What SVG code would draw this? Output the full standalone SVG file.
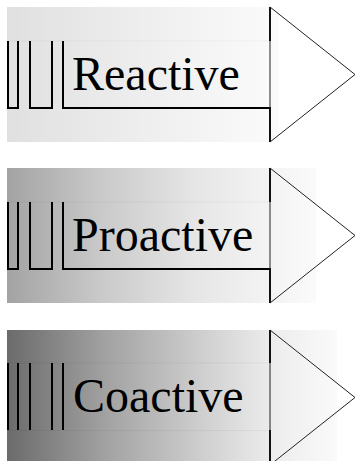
<svg xmlns="http://www.w3.org/2000/svg" width="356" height="461" viewBox="0 0 356 461">
<defs>
<linearGradient id="g1" x1="0" y1="0" x2="1" y2="0">
<stop offset="0" stop-color="#e0e0e0"/>
<stop offset="0.5" stop-color="#eeeeee"/>
<stop offset="1" stop-color="#fbfbfb"/>
</linearGradient>
<linearGradient id="g2" x1="0" y1="0" x2="1" y2="0">
<stop offset="0" stop-color="#a3a3a3"/>
<stop offset="0.3" stop-color="#c9c9c9"/>
<stop offset="0.6" stop-color="#e5e5e5"/>
<stop offset="0.8" stop-color="#f1f1f1"/>
<stop offset="1" stop-color="#fafafa"/>
</linearGradient>
<linearGradient id="g3" x1="0" y1="0" x2="1" y2="0">
<stop offset="0" stop-color="#6b6b6b"/>
<stop offset="0.3" stop-color="#a2a2a2"/>
<stop offset="0.6" stop-color="#d0d0d0"/>
<stop offset="0.8" stop-color="#ececec"/>
<stop offset="1" stop-color="#fafafa"/>
</linearGradient>
</defs>
<style>
.bar{fill:none;stroke:#000;stroke-width:2}
.faint{fill:none;stroke:#000;stroke-opacity:0.045;stroke-width:1}
.head{fill:none;stroke:#222;stroke-width:1}
.lbl{font-family:"Liberation Serif","Times New Roman",serif;font-size:48px;fill:#000}
</style>
<rect width="356" height="461" fill="#fff"/>
<g id="reactive">
<rect x="7" y="7" width="272" height="135" fill="url(#g1)"/>
<line class="faint" x1="7" y1="41" x2="270" y2="41"/>
<path class="bar" d="M8,41 V108 H18 V41 M30,41 V108 H52 V41 M63,41 V108 H270 V142 M270,7 V41"/>
<polygon class="head" points="270,7 355,74.5 270,142"/>
<text class="lbl" x="72" y="90">Reactive</text>
</g>
<g id="proactive">
<rect x="7" y="168" width="309" height="135" fill="url(#g2)"/>
<line class="faint" x1="7" y1="202" x2="270" y2="202"/>
<path class="bar" d="M8,202 V269 H18 V202 M30,202 V269 H52 V202 M63,202 V269 H270 V303 M270,168 V202"/>
<polygon class="head" points="270,168 355,235.5 270,303"/>
<text class="lbl" x="72" y="251">Proactive</text>
</g>
<g id="coactive">
<rect x="7" y="330" width="330" height="135" fill="url(#g3)"/>
<line class="faint" x1="7" y1="363" x2="270" y2="363"/>
<line class="faint" x1="7" y1="430.5" x2="270" y2="430.5"/>
<path class="bar" d="M8,363 V430 M18,363 V430 M30,363 V430 M52,363 V430 M63,363 V430 M270,330 V363 M270,430 V465"/>
<polygon class="head" points="270,330 355,397.5 270,465"/>
<text class="lbl" x="73" y="412">Coactive</text>
</g>
<g id="connectors"/>
</svg>
